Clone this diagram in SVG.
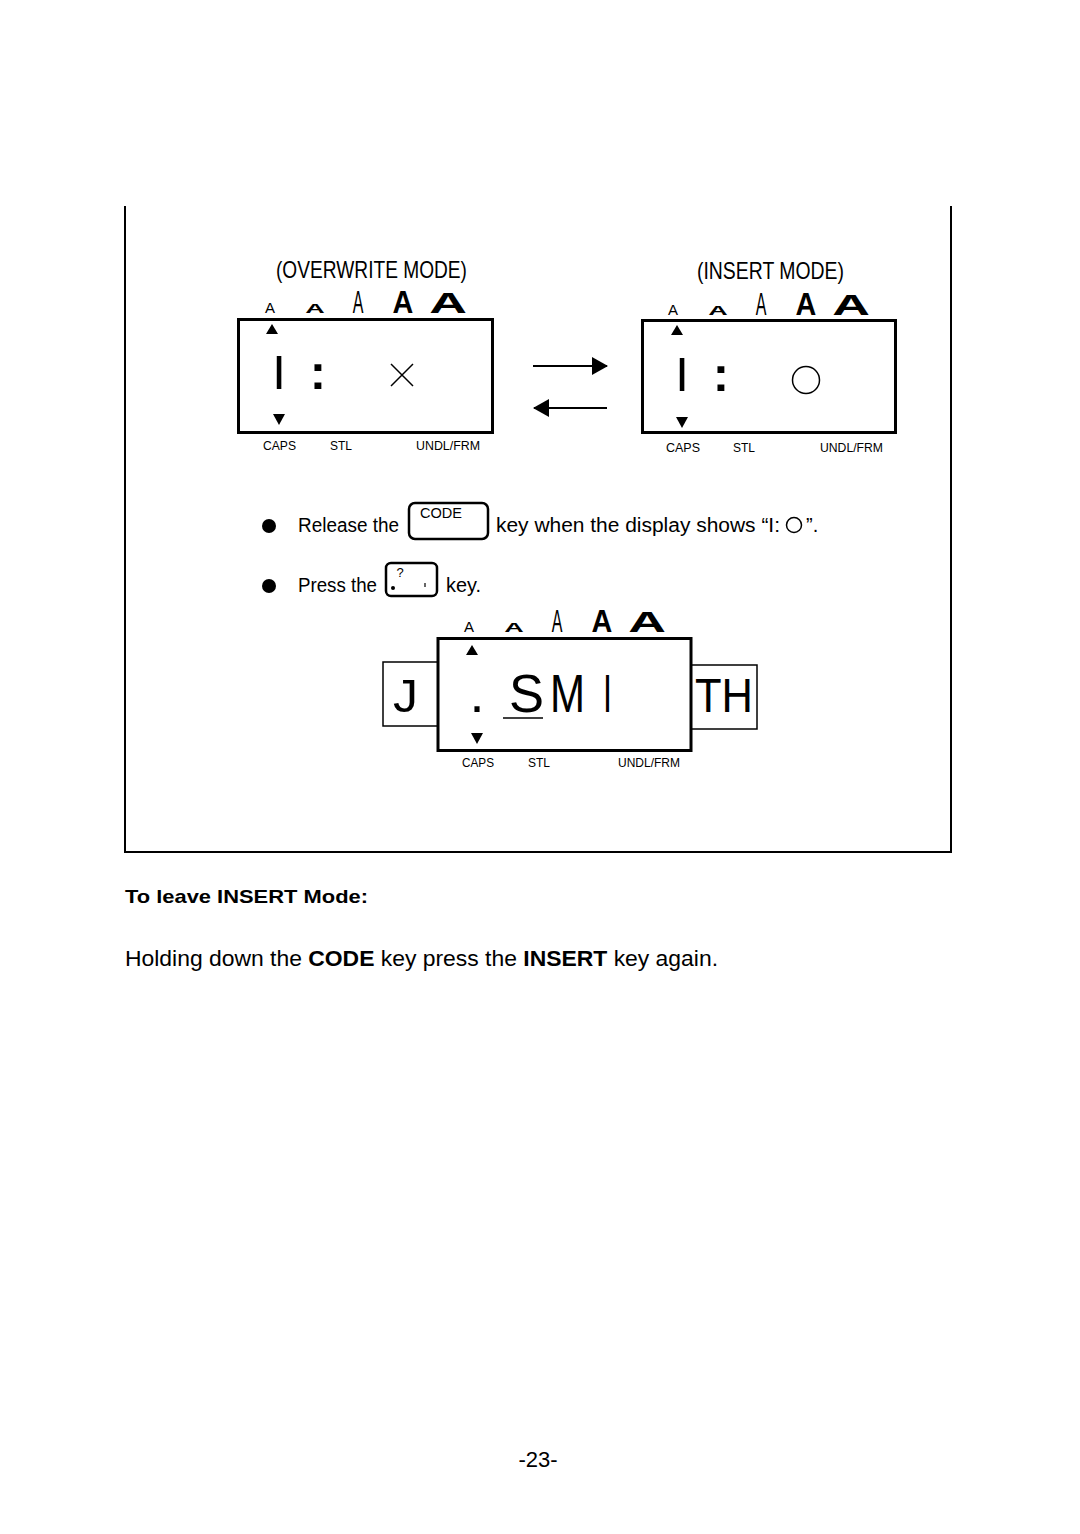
<svg xmlns="http://www.w3.org/2000/svg" xmlns:xlink="http://www.w3.org/1999/xlink" width="1080" height="1534" viewBox="0 0 1080 1534">
<style>
text{font-family:"Liberation Sans",Arial,sans-serif;fill:#000}
.b{font-weight:bold}
.lcd{fill:#fff;stroke:#000;stroke-width:3}
.lbl{font-size:13px}
.thin{fill:none;stroke:#000;stroke-width:1.5}
.key{fill:#fff;stroke:#000;stroke-width:2.5}
</style>
<defs>
<g id="sizes">
<text x="0" y="0" font-size="15" text-anchor="middle">A</text>
<text transform="translate(45,0) scale(2.0,1)" font-size="13.5" class="b" text-anchor="middle">A</text>
<text transform="translate(88,0) scale(0.5,1)" font-size="32" text-anchor="middle">A</text>
<text transform="translate(133,0) scale(0.9,1)" font-size="32" class="b" text-anchor="middle">A</text>
<text transform="translate(178,0) scale(1.8,1)" font-size="29" class="b" text-anchor="middle">A</text>
</g>
<path id="up" d="M0,0 l6,10 h-12 z"/>
<path id="dn" d="M0,0 l6,-11 h-12 z"/>
<marker id="ah" viewBox="0 0 16 18" refX="15" refY="9" markerWidth="16" markerHeight="18" markerUnits="userSpaceOnUse" orient="auto">
<path d="M0,0 L16,9 L0,18 z" fill="#000"/>
</marker>
</defs>

<g id="frame">
<path d="M125,206 V852 H951 V206" fill="none" stroke="#000" stroke-width="2"/>
</g>

<g id="overwrite-display">
<text x="276" y="278" font-size="24" textLength="191" lengthAdjust="spacingAndGlyphs">(OVERWRITE MODE)</text>
<use xlink:href="#sizes" x="270" y="313"/>
<rect class="lcd" x="238.5" y="319.5" width="254" height="113"/>
<use xlink:href="#up" x="272" y="324"/>
<use xlink:href="#dn" x="279" y="425"/>
<text x="279" y="389" font-size="49" text-anchor="middle">I</text>
<text x="318" y="389" font-size="49" class="b" text-anchor="middle">:</text>
<path d="M391,364 L413,386 M413,364 L391,386" class="thin"/>
<text class="lbl" x="263" y="450" textLength="33" lengthAdjust="spacingAndGlyphs">CAPS</text>
<text class="lbl" x="330" y="450" textLength="22" lengthAdjust="spacingAndGlyphs">STL</text>
<text class="lbl" x="416" y="450" textLength="64" lengthAdjust="spacingAndGlyphs">UNDL/FRM</text>
</g>

<g id="insert-display">
<text x="697" y="279" font-size="24" textLength="147" lengthAdjust="spacingAndGlyphs">(INSERT MODE)</text>
<use xlink:href="#sizes" x="673" y="315"/>
<rect class="lcd" x="642.5" y="320.5" width="253" height="112"/>
<use xlink:href="#up" x="677" y="325"/>
<use xlink:href="#dn" x="682" y="428"/>
<text x="682" y="391" font-size="49" text-anchor="middle">I</text>
<text x="721" y="391" font-size="49" class="b" text-anchor="middle">:</text>
<circle cx="806" cy="380" r="13.5" class="thin"/>
<text class="lbl" x="666" y="452" textLength="34" lengthAdjust="spacingAndGlyphs">CAPS</text>
<text class="lbl" x="733" y="452" textLength="22" lengthAdjust="spacingAndGlyphs">STL</text>
<text class="lbl" x="820" y="452" textLength="63" lengthAdjust="spacingAndGlyphs">UNDL/FRM</text>
</g>

<g id="connectors">
<line x1="533" y1="366" x2="607" y2="366" stroke="#000" stroke-width="2" marker-end="url(#ah)"/>
<line x1="607" y1="408" x2="534" y2="408" stroke="#000" stroke-width="2" marker-end="url(#ah)"/>
</g>

<g id="step-release">
<circle cx="269" cy="526" r="7"/>
<text x="298" y="532" font-size="20" textLength="101" lengthAdjust="spacingAndGlyphs">Release the</text>
<rect class="key" x="409" y="503" width="79" height="36" rx="6"/>
<text x="420" y="518" font-size="14" textLength="42" lengthAdjust="spacingAndGlyphs">CODE</text>
<text x="496" y="532" font-size="20" textLength="284" lengthAdjust="spacingAndGlyphs">key when the display shows “I:</text>
<circle cx="794" cy="525" r="7.5" class="thin"/>
<text x="806" y="532" font-size="20">”.</text>
</g>

<g id="step-press">
<circle cx="269" cy="586" r="7"/>
<text x="298" y="592" font-size="20" textLength="79" lengthAdjust="spacingAndGlyphs">Press the</text>
<rect class="key" x="386" y="563" width="51" height="33" rx="5"/>
<text x="400" y="577" font-size="13" text-anchor="middle">?</text>
<circle cx="393" cy="588" r="2"/>
<line x1="425" y1="583" x2="425" y2="587" stroke="#000" stroke-width="1.2"/>
<text x="446" y="592" font-size="20" textLength="35" lengthAdjust="spacingAndGlyphs">key.</text>
</g>

<g id="result-display">
<use xlink:href="#sizes" x="469" y="632"/>
<rect x="383" y="662" width="55" height="64" fill="#fff" stroke="#000" stroke-width="1.5"/>
<rect x="691" y="665" width="66" height="64" fill="#fff" stroke="#000" stroke-width="1.5"/>
<rect class="lcd" x="438" y="638.5" width="253" height="112"/>
<use xlink:href="#up" x="472" y="645"/>
<use xlink:href="#dn" x="477" y="744"/>
<text x="393" y="712" font-size="47" textLength="25" lengthAdjust="spacingAndGlyphs">J</text>
<text x="477" y="712" font-size="54" text-anchor="middle">.</text>
<text x="509" y="712" font-size="54" textLength="35" lengthAdjust="spacingAndGlyphs">S</text>
<text x="550" y="712" font-size="54" textLength="35" lengthAdjust="spacingAndGlyphs">M</text>
<text x="603" y="712" font-size="54" textLength="9" lengthAdjust="spacingAndGlyphs">I</text>
<line x1="503" y1="718" x2="543" y2="718" stroke="#000" stroke-width="1.5"/>
<text x="695" y="712" font-size="48" textLength="58" lengthAdjust="spacingAndGlyphs">TH</text>
<text class="lbl" x="462" y="767" textLength="32" lengthAdjust="spacingAndGlyphs">CAPS</text>
<text class="lbl" x="528" y="767" textLength="22" lengthAdjust="spacingAndGlyphs">STL</text>
<text class="lbl" x="618" y="767" textLength="62" lengthAdjust="spacingAndGlyphs">UNDL/FRM</text>
</g>

<g id="leave-text">
<text x="125" y="903" font-size="19" class="b" textLength="243" lengthAdjust="spacingAndGlyphs">To leave INSERT Mode:</text>
<text x="125" y="966" font-size="22" textLength="593" lengthAdjust="spacingAndGlyphs">Holding down the <tspan class="b">CODE</tspan> key press the <tspan class="b">INSERT</tspan> key again.</text>
</g>

<g id="page-number">
<text x="538" y="1467" font-size="22" text-anchor="middle">-23-</text>
</g>
</svg>
